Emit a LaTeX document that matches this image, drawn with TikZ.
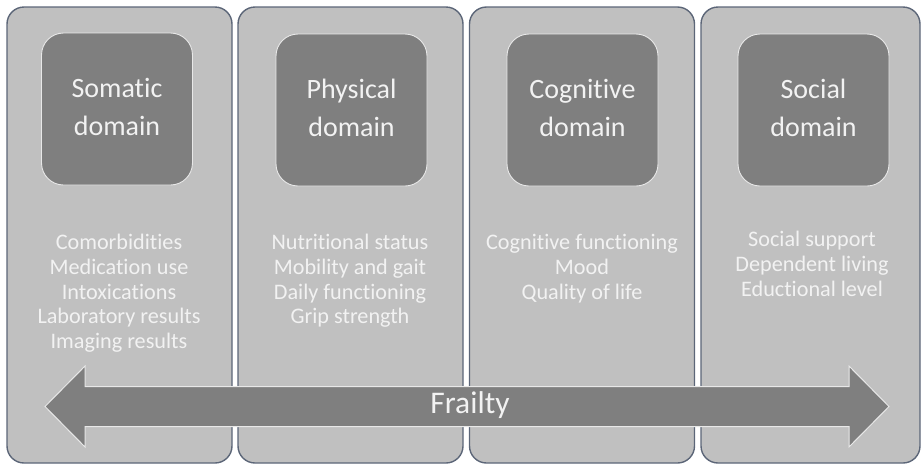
\documentclass[tikz,border=0pt]{standalone}
\usepackage{fontspec}
\setmainfont{Carlito}[RawFeature=-liga]
\begin{document}
\begin{tikzpicture}[x=1pt,y=-1pt,
  colbox/.style={draw=colline, line width=1.4pt, fill=colfill, rounded corners=17pt,
    minimum height=456pt, inner sep=0pt},
  domainbox/.style={draw=boxline, line width=0.9pt, fill=darkfill, rounded corners=22pt,
    minimum width=151pt, minimum height=152pt, inner sep=0pt},
  titletext/.style={text=lighttext, align=center, font=\fontsize{28}{37.5}\selectfont},
  itemtext/.style={text=lighttext, align=center, font=\fontsize{22.2}{24.6}\selectfont,
    anchor=north},
  bigarrow/.style={draw=boxline, line width=1pt, fill=darkfill},
]
\definecolor{colline}{RGB}{92,102,120}
\definecolor{colfill}{RGB}{192,192,192}
\definecolor{darkfill}{RGB}{127,127,127}
\definecolor{boxline}{RGB}{232,232,232}
\definecolor{lighttext}{RGB}{242,242,242}
\useasboundingbox (0,0) rectangle (922,464);

% four domain columns
\node[colbox, minimum width=225pt] (c1) at (119.5,235) {};
\node[colbox, minimum width=225pt] (c2) at (350.5,235) {};
\node[colbox, minimum width=225pt] (c3) at (582,235) {};
\node[colbox, minimum width=219pt] (c4) at (810.5,235) {};

% domain headers
\node[domainbox] (b1) at (117,109) {};
\node[domainbox] (b2) at (351.5,110) {};
\node[domainbox] (b3) at (582.5,110) {};
\node[domainbox] (b4) at (813.5,110) {};
\node[titletext] (t1) at (117,107) {Somatic\\domain};
\node[titletext] (t2) at (351.5,108) {Physical\\domain};
\node[titletext] (t3) at (582.5,108) {Cognitive\\domain};
\node[titletext] (t4) at (813.5,108) {Social\\domain};

% items of each domain
\node[itemtext] (i1) at (119,231) {Comorbidities\\Medication use\\Intoxications\\Laboratory results\\Imaging results};
\node[itemtext] (i2) at (350,231) {Nutritional status\\Mobility and gait\\Daily functioning\\Grip strength};
\node[itemtext] (i3) at (582,231) {Cognitive functioning\\Mood\\Quality of life};
\node[itemtext] (i4) at (812,228) {Social support\\Dependent living\\Eductional level};

% double-headed frailty arrow across all columns
\draw[bigarrow] (45,406.5) -- (85,366) -- (85,386.5) -- (849,386.5) -- (849,366)
  -- (889,406.5) -- (849,447) -- (849,426.5) -- (85,426.5) -- (85,447) -- cycle;
\node[text=lighttext, font=\fontsize{31.5}{31.5}\selectfont] (fr) at (470,405) {Frailty};
\end{tikzpicture}
\end{document}
